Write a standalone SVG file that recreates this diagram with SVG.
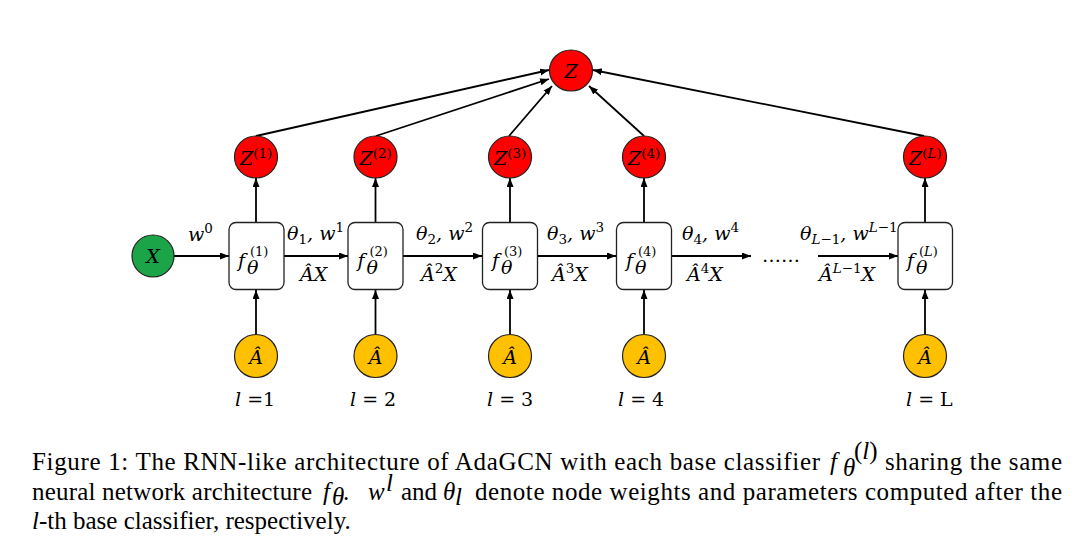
<svg xmlns="http://www.w3.org/2000/svg" width="1090" height="547" viewBox="0 0 1090 547">
<style>
.red{fill:#FF0000;stroke:#222;stroke-width:1.2}
.grn{fill:#1BA548;stroke:#222;stroke-width:1.2}
.yel{fill:#FFC000;stroke:#222;stroke-width:1.2}
.box{fill:#fff;stroke:#222;stroke-width:1.3}
.m{font-family:"DejaVu Serif","Liberation Serif",serif;font-style:italic;font-size:19px;fill:#000}
.mu{font-style:normal}
.s{font-size:13.5px}
.fs{font-size:13px}
.cap{font-family:"Liberation Serif","Times New Roman",serif;font-size:25px;fill:#000}
.it{font-style:italic}
.e{stroke:#000;stroke-width:1.8;fill:none;marker-end:url(#ah)}
</style>
<defs>
<marker id="ah" markerUnits="userSpaceOnUse" markerWidth="10" markerHeight="8" refX="9" refY="3.5" orient="auto">
<path d="M0,0 L9,3.5 L0,7 z" fill="#000"/>
</marker>
</defs>
<rect width="1090" height="547" fill="#fff"/>

<g id="connectors">
<line class="e" x1="256" y1="136" x2="549" y2="70"/>
<line class="e" x1="376" y1="136" x2="549" y2="79"/>
<line class="e" x1="509" y1="136" x2="552" y2="86"/>
<line class="e" x1="644" y1="136" x2="589" y2="86"/>
<line class="e" x1="924" y1="136" x2="593" y2="70"/>
<line class="e" x1="256" y1="222" x2="256" y2="178"/>
<line class="e" x1="375.5" y1="222" x2="375.5" y2="178"/>
<line class="e" x1="510" y1="222" x2="510" y2="178"/>
<line class="e" x1="644" y1="222" x2="644" y2="178"/>
<line class="e" x1="925" y1="222" x2="925" y2="178"/>
<line class="e" x1="256" y1="334" x2="256" y2="290"/>
<line class="e" x1="375.5" y1="334" x2="375.5" y2="290"/>
<line class="e" x1="510" y1="334" x2="510" y2="290"/>
<line class="e" x1="644" y1="334" x2="644" y2="290"/>
<line class="e" x1="925" y1="334" x2="925" y2="290"/>
<line class="e" x1="174" y1="256" x2="229" y2="256"/>
<line class="e" x1="284" y1="256" x2="348" y2="256"/>
<line class="e" x1="403" y1="256" x2="482" y2="256"/>
<line class="e" x1="538" y1="256" x2="616" y2="256"/>
<line class="e" x1="672" y1="256" x2="751" y2="256"/>
<line class="e" x1="818" y1="256" x2="898" y2="256"/>
</g>

<g id="edge-labels">
<text class="m" x="188" y="241">w<tspan class="s mu" dy="-8">0</tspan></text>
<text class="m" x="287" y="240">θ<tspan class="s mu" dy="4">1</tspan><tspan dy="-4">, w</tspan><tspan class="s mu" dy="-8">1</tspan></text>
<text class="m" x="300" y="281">ÂX</text>
<text class="m" x="416" y="240">θ<tspan class="s mu" dy="4">2</tspan><tspan dy="-4">, w</tspan><tspan class="s mu" dy="-8">2</tspan></text>
<text class="m" x="421" y="281">Â<tspan class="s mu" dy="-8">2</tspan><tspan dy="8">X</tspan></text>
<text class="m" x="547" y="240">θ<tspan class="s mu" dy="4">3</tspan><tspan dy="-4">, w</tspan><tspan class="s mu" dy="-8">3</tspan></text>
<text class="m" x="552" y="281">Â<tspan class="s mu" dy="-8">3</tspan><tspan dy="8">X</tspan></text>
<text class="m" x="682" y="240">θ<tspan class="s mu" dy="4">4</tspan><tspan dy="-4">, w</tspan><tspan class="s mu" dy="-8">4</tspan></text>
<text class="m" x="687" y="281">Â<tspan class="s mu" dy="-8">4</tspan><tspan dy="8">X</tspan></text>
<text class="m mu" x="781" y="262" text-anchor="middle" font-size="22">……</text>
<text class="m" x="800" y="240">θ<tspan class="s" dy="4">L</tspan><tspan class="s mu">−1</tspan><tspan dy="-4">, w</tspan><tspan class="s" dy="-8">L</tspan><tspan class="s mu">−1</tspan></text>
<text class="m" x="819" y="281">Â<tspan class="s" dy="-8">L</tspan><tspan class="s mu">−1</tspan><tspan dy="8">X</tspan></text>
</g>

<g id="node-Z">
<ellipse class="red" cx="571" cy="70.5" rx="21.5" ry="20.5"/>
<text class="m" x="571" y="78" text-anchor="middle" font-size="20">Z</text>
</g>
<g id="node-Z1">
<ellipse class="red" cx="256" cy="157" rx="21.5" ry="21"/>
<text class="m" x="240" y="165">Z<tspan class="s mu" dy="-7">(1)</tspan></text>
</g>
<g id="node-Z2">
<ellipse class="red" cx="375.5" cy="157" rx="21.5" ry="21"/>
<text class="m" x="359.5" y="165">Z<tspan class="s mu" dy="-7">(2)</tspan></text>
</g>
<g id="node-Z3">
<ellipse class="red" cx="510" cy="157" rx="21.5" ry="21"/>
<text class="m" x="494" y="165">Z<tspan class="s mu" dy="-7">(3)</tspan></text>
</g>
<g id="node-Z4">
<ellipse class="red" cx="644" cy="157" rx="21.5" ry="21"/>
<text class="m" x="628" y="165">Z<tspan class="s mu" dy="-7">(4)</tspan></text>
</g>
<g id="node-ZL">
<ellipse class="red" cx="925" cy="157" rx="21.5" ry="21"/>
<text class="m" x="909" y="165">Z<tspan class="s mu" dy="-7">(</tspan><tspan class="s">L</tspan><tspan class="s mu">)</tspan></text>
</g>

<g id="node-X">
<ellipse class="grn" cx="153" cy="256" rx="21" ry="21"/>
<text class="m" x="153" y="263" text-anchor="middle" font-size="20">X</text>
</g>

<g id="node-f1">
<rect class="box" x="229" y="222.5" width="55" height="67" rx="7"/>
<text class="m" x="238" y="267" font-size="24">f</text>
<text class="m" x="247" y="274" font-size="14">θ</text>
<text class="m mu fs" x="250" y="256">(1)</text>
</g>
<g id="node-f2">
<rect class="box" x="348" y="222.5" width="55" height="67" rx="7"/>
<text class="m" x="357.5" y="267" font-size="24">f</text>
<text class="m" x="366.5" y="274" font-size="14">θ</text>
<text class="m mu fs" x="369.5" y="256">(2)</text>
</g>
<g id="node-f3">
<rect class="box" x="482.5" y="222.5" width="55" height="67" rx="7"/>
<text class="m" x="492" y="267" font-size="24">f</text>
<text class="m" x="501" y="274" font-size="14">θ</text>
<text class="m mu fs" x="504" y="256">(3)</text>
</g>
<g id="node-f4">
<rect class="box" x="616.5" y="222.5" width="55" height="67" rx="7"/>
<text class="m" x="626" y="267" font-size="24">f</text>
<text class="m" x="635" y="274" font-size="14">θ</text>
<text class="m mu fs" x="638" y="256">(4)</text>
</g>
<g id="node-fL">
<rect class="box" x="898" y="222.5" width="54.5" height="67" rx="7"/>
<text class="m" x="907" y="267" font-size="24">f</text>
<text class="m" x="916" y="274" font-size="14">θ</text>
<text class="m fs" x="919" y="256"><tspan class="mu">(</tspan>L<tspan class="mu">)</tspan></text>
</g>

<g id="node-A1">
<ellipse class="yel" cx="256" cy="356" rx="21.5" ry="21.5"/>
<text class="m" x="256" y="364" text-anchor="middle" font-size="20">Â</text>
</g>
<g id="node-A2">
<ellipse class="yel" cx="375.5" cy="356" rx="21.5" ry="21.5"/>
<text class="m" x="375.5" y="364" text-anchor="middle" font-size="20">Â</text>
</g>
<g id="node-A3">
<ellipse class="yel" cx="510" cy="356" rx="21.5" ry="21.5"/>
<text class="m" x="510" y="364" text-anchor="middle" font-size="20">Â</text>
</g>
<g id="node-A4">
<ellipse class="yel" cx="644" cy="356" rx="21.5" ry="21.5"/>
<text class="m" x="644" y="364" text-anchor="middle" font-size="20">Â</text>
</g>
<g id="node-AL">
<ellipse class="yel" cx="925" cy="356" rx="21.5" ry="21.5"/>
<text class="m" x="925" y="364" text-anchor="middle" font-size="20">Â</text>
</g>

<g id="layer-labels">
<text class="m" x="235" y="406" font-size="20">l <tspan class="mu">=1</tspan></text>
<text class="m" x="350" y="406" font-size="20">l <tspan class="mu">= 2</tspan></text>
<text class="m" x="487" y="406" font-size="20">l <tspan class="mu">= 3</tspan></text>
<text class="m" x="618" y="406" font-size="20">l <tspan class="mu">= 4</tspan></text>
<text class="m" x="906" y="406" font-size="20">l <tspan class="mu">= L</tspan></text>
</g>

<g id="caption">
<text class="cap" x="32" y="470" textLength="788" lengthAdjust="spacing">Figure 1: The RNN-like architecture of AdaGCN with each base classifier</text>
<text class="cap it" x="830" y="470">f</text>
<text class="cap it" x="843" y="476" font-size="16">θ</text>
<text class="cap" x="854" y="459" font-size="16">(<tspan class="it">l</tspan>)</text>
<text class="cap" x="885" y="470" textLength="177" lengthAdjust="spacing">sharing the same</text>

<text class="cap" x="32" y="500" textLength="280" lengthAdjust="spacing">neural network architecture</text>
<text class="cap it" x="323" y="500">f</text>
<text class="cap it" x="332" y="505" font-size="16">θ</text>
<text class="cap" x="343" y="500">.</text>
<text class="cap it" x="368" y="500">w</text>
<text class="cap it" x="386" y="491" font-size="16">l</text>
<text class="cap" x="401" y="500">and</text>
<text class="cap it" x="443" y="500">θ</text>
<text class="cap it" x="455" y="505" font-size="16">l</text>
<text class="cap" x="475" y="500" textLength="587" lengthAdjust="spacing">denote node weights and parameters computed after the</text>

<text class="cap" x="32" y="529"><tspan class="it">l</tspan>-th base classifier, respectively.</text>
</g>
</svg>
